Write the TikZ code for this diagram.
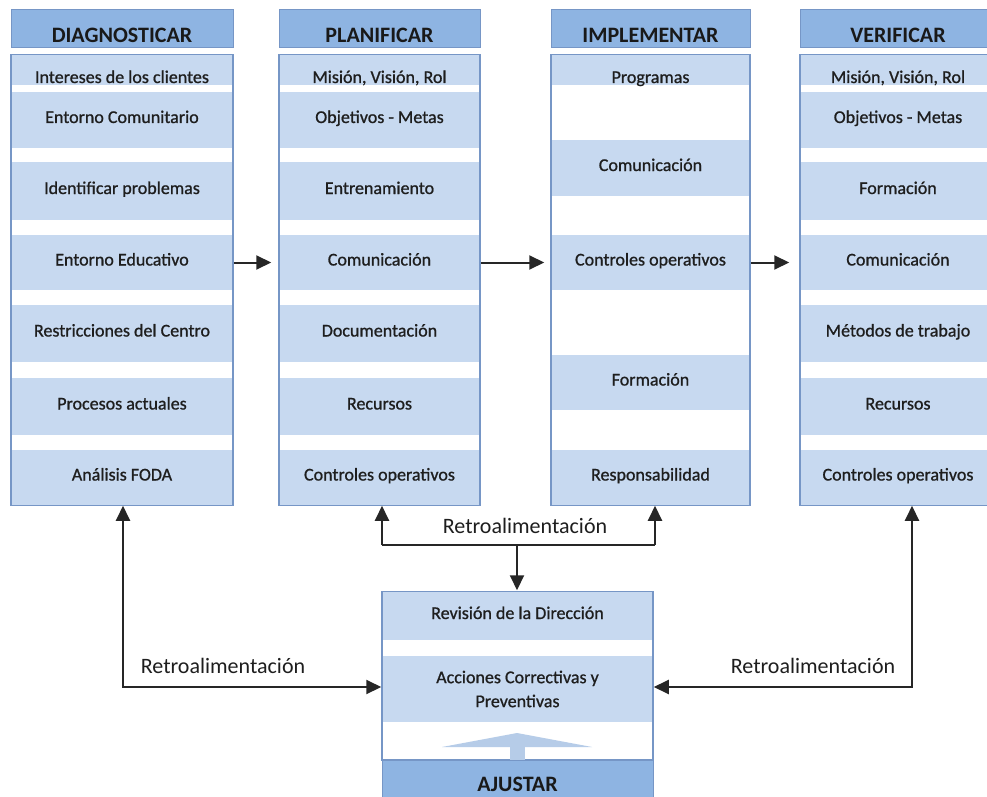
\documentclass[tikz,border=0pt]{standalone}
\usepackage{fontspec}
\setmainfont{Carlito}
\newfontfamily\cellfont{Carlito}[FakeBold=0.9]
\usetikzlibrary{arrows.meta,positioning}
\definecolor{headblue}{RGB}{142,180,226}
\definecolor{bandblue}{RGB}{199,217,240}
\definecolor{edgeblue}{RGB}{118,150,198}
\definecolor{inkgray}{RGB}{30,30,30}
\definecolor{arrowblue}{RGB}{182,204,232}
\begin{document}
\begin{tikzpicture}[x=1pt,y=-1pt,
    head/.style={draw=edgeblue,fill=headblue,line width=1pt,inner sep=0pt,
      minimum height=38pt,text height=28pt,text depth=0pt,
      font=\fontsize{22}{26}\selectfont\bfseries,text=black!90},
    colbody/.style={draw=edgeblue,fill=white,line width=1.5pt,inner sep=0pt},
    band/.style={fill=bandblue,inner sep=0pt,
      font=\cellfont\fontsize{18}{24}\selectfont,text=inkgray},
    cell/.style={band,text height=12pt,text depth=6pt},
    toprow/.style={band,minimum height=30pt,text height=26pt,text depth=0pt},
    arr/.style={draw=black!85,line width=2pt,-{Triangle[length=15pt,width=14pt]}},
    fb/.style={font=\fontsize{22}{26}\selectfont,text=inkgray}]
  \clip (0,0) rectangle (987,797);

  % DIAGNOSTICAR
  \node[colbody,minimum width=222pt,minimum height=450pt] (dgbody) at (122,280) {};
  \node[head,minimum width=222pt] (dghead) at (122,29) {DIAGNOSTICAR};
  \node[toprow,minimum width=220pt] (dg1) at (122,70) {Intereses de los clientes};
  \foreach \y/\h/\t [count=\i from 2] in {120/56/Entorno Comunitario,
      191/58/Identificar problemas, 262.5/55/Entorno Educativo,
      333.5/57/Restricciones del Centro, 406.5/57/Procesos actuales,
      477.5/55/Análisis FODA}
    \node[cell,minimum width=220pt,minimum height=\h pt] (dg\i) at (122,\y) {\t};

  % PLANIFICAR
  \node[colbody,minimum width=201pt,minimum height=450pt] (plbody) at (379.5,280) {};
  \node[head,minimum width=201pt] (plhead) at (379.5,29) {PLANIFICAR};
  \node[toprow,minimum width=199pt] (pl1) at (379.5,70) {Misión, Visión, Rol};
  \foreach \y/\h/\t [count=\i from 2] in {120/56/Objetivos - Metas,
      191/58/Entrenamiento, 262.5/55/Comunicación,
      333.5/57/Documentación, 406.5/57/Recursos,
      477.5/55/Controles operativos}
    \node[cell,minimum width=199pt,minimum height=\h pt] (pl\i) at (379.5,\y) {\t};

  % IMPLEMENTAR
  \node[colbody,minimum width=199pt,minimum height=450pt] (imbody) at (650.5,280) {};
  \node[head,minimum width=199pt] (imhead) at (650.5,29) {IMPLEMENTAR};
  \node[toprow,minimum width=197pt] (im1) at (650.5,70) {Programas};
  \foreach \y/\h/\t [count=\i from 2] in {168/56/Comunicación,
      262.5/55/Controles operativos, 382.5/55/Formación,
      477.5/55/Responsabilidad}
    \node[cell,minimum width=197pt,minimum height=\h pt] (im\i) at (650.5,\y) {\t};

  % VERIFICAR
  \node[colbody,minimum width=196pt,minimum height=450pt] (vebody) at (898,280) {};
  \node[head,minimum width=196pt] (vehead) at (898,29) {VERIFICAR};
  \node[toprow,minimum width=194pt] (ve1) at (898,70) {Misión, Visión, Rol};
  \foreach \y/\h/\t [count=\i from 2] in {120/56/Objetivos - Metas,
      191/58/Formación, 262.5/55/Comunicación,
      333.5/57/Métodos de trabajo, 406.5/57/Recursos,
      477.5/55/Controles operativos}
    \node[cell,minimum width=194pt,minimum height=\h pt] (ve\i) at (898,\y) {\t};

  % AJUSTAR
  \node[colbody,minimum width=271pt,minimum height=168pt] (ajbody) at (517.5,676) {};
  \node[cell,minimum width=269pt,minimum height=48pt] (aj1) at (517.5,616) {Revisión de la Dirección};
  \node[band,minimum width=269pt,minimum height=66pt,align=center] (aj2) at (517.5,689)
    {Acciones Correctivas y\\Preventivas};
  \fill[arrowblue] (442,747) -- (517,733) -- (592,747) -- cycle;
  \fill[arrowblue] (510,746) rectangle (525,760);
  \node[head,minimum width=271pt,minimum height=60pt,text height=2pt] (ajhead) at (517.5,790) {AJUSTAR};

  % flujo principal
  \draw[arr,shorten >=7pt] (dgbody.east |- dg4) -- (plbody.west |- dg4);
  \draw[arr,shorten >=6pt] (plbody.east |- pl4) -- (imbody.west |- pl4);
  \draw[arr,shorten >=10pt] (imbody.east |- im3) -- (vebody.west |- im3);

  % retroalimentacion
  \coordinate (fbl) at (382,545);
  \coordinate (fbr) at (655,545);
  \coordinate (fbm) at (517,545);
  \draw[arr,-] (fbl) -- (fbr);
  \draw[arr] (fbl) -- (fbl |- plbody.south);
  \draw[arr] (fbr) -- (fbr |- imbody.south);
  \draw[arr,shorten >=1pt] (fbm) -- (fbm |- ajbody.north);
  \node[fb] (fbtop) at (525,526) {Retroalimentación};

  \coordinate (lc) at (123,687);
  \coordinate (rc) at (912,687);
  \draw[arr,{Triangle[length=15pt,width=14pt]}-{Triangle[length=15pt,width=14pt]}]
    (lc |- dgbody.south) -- (lc) -- (lc -| ajbody.west);
  \draw[arr,{Triangle[length=15pt,width=14pt]}-{Triangle[length=15pt,width=14pt]}]
    (rc |- vebody.south) -- (rc) -- (rc -| ajbody.east);
  \node[fb] (fbleft) at (223,666) {Retroalimentación};
  \node[fb] (fbright) at (813,666) {Retroalimentación};
\end{tikzpicture}
\end{document}
